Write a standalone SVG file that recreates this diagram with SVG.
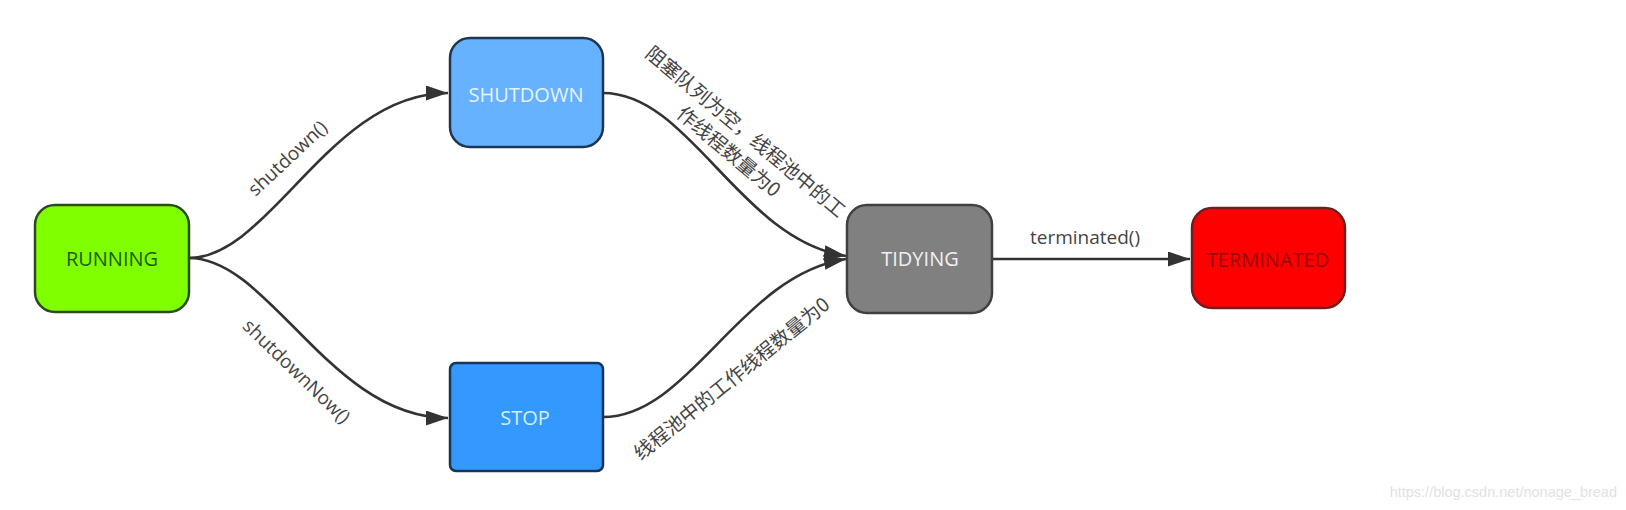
<svg xmlns="http://www.w3.org/2000/svg" width="1626" height="510" viewBox="0 0 1626 510">
<style>
.box{stroke-width:2.5}
.lbl{font-family:"Open Sans","Noto Sans",sans-serif;font-size:20px;text-anchor:middle}
.elbl{font-family:"Open Sans","Noto Sans",sans-serif;font-size:19px;fill:#444;text-anchor:middle}
.cjk{font-family:"Noto Sans CJK SC","Noto Sans",sans-serif;font-size:19.5px;fill:#444;text-anchor:middle}
.edge{fill:none;stroke:#333;stroke-width:2.6}
</style>
<defs>
<marker id="arr" markerUnits="userSpaceOnUse" markerWidth="24" markerHeight="16" refX="22" refY="7.5" orient="auto">
<path d="M0,0 L22,7.5 L0,15 z" fill="#333"/>
</marker>
</defs>
<rect width="1626" height="510" fill="#ffffff"/>
<g id="connectors">
<path class="edge" d="M189,258 C270,258 330,93 448,93" marker-end="url(#arr)"/>
<path class="edge" d="M189,258 C270,258 330,418 448,418" marker-end="url(#arr)"/>
<path class="edge" d="M603,93 C690,93 740,240 846,256" marker-end="url(#arr)"/>
<path class="edge" d="M603,417 C690,417 740,275 846,259" marker-end="url(#arr)"/>
<path class="edge" d="M992,259 L1190,259" marker-end="url(#arr)"/>
<text class="elbl" transform="translate(292,163) rotate(-43)">shutdown()</text>
<text class="elbl" transform="translate(292,376) rotate(44)">shutdownNow()</text>
<g class="cjk" transform="translate(741,137) rotate(40)">
<text x="0" y="0">阻塞队列为空，线程池中的工</text>
<text x="0" y="26">作线程数量为0</text>
</g>
<text class="cjk" transform="translate(736,384) rotate(-39)">线程池中的工作线程数量为0</text>
<text class="elbl" x="1085" y="244">terminated()</text>
</g>
<g id="RUNNING">
<rect class="box" x="35" y="205" width="154" height="107" rx="20" fill="#7fff00" stroke="#2d4a1e"/>
<text class="lbl" x="112" y="266" fill="#1f5a10">RUNNING</text>
</g>
<g id="SHUTDOWN">
<rect class="box" x="450" y="38" width="153" height="109" rx="20" fill="#66b2ff" stroke="#1f3550"/>
<text class="lbl" x="526" y="102" fill="#e6f2ff">SHUTDOWN</text>
</g>
<g id="STOP">
<rect class="box" x="450" y="363" width="153" height="108" rx="6" fill="#3399ff" stroke="#1a3552"/>
<text class="lbl" x="525" y="425" fill="#d6ecff">STOP</text>
</g>
<g id="TIDYING">
<rect class="box" x="847" y="205" width="145" height="108" rx="20" fill="#808080" stroke="#404040"/>
<text class="lbl" x="920" y="266" fill="#f0f0f0">TIDYING</text>
</g>
<g id="TERMINATED">
<rect class="box" x="1192" y="208" width="153" height="100" rx="20" fill="#ff0000" stroke="#6e2020"/>
<text class="lbl" x="1268" y="267" fill="#990000">TERMINATED</text>
</g>
<text x="1617" y="497" font-family="Liberation Sans,Arial,sans-serif" font-size="14.5" fill="#e2e2e2" text-anchor="end">https://blog.csdn.net/nonage_bread</text>
</svg>
